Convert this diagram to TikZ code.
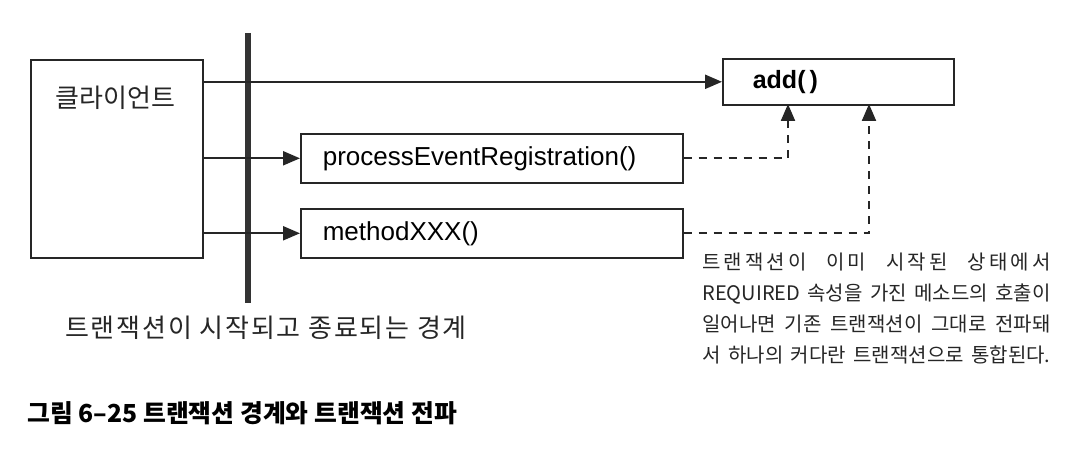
\documentclass[tikz,border=0pt]{standalone}
\usepackage{fontspec}
\setmainfont{Liberation Sans}
\newfontfamily\kr{Noto Sans CJK KR}
\newfontfamily\krwide[LetterSpace=7]{Noto Sans CJK KR}
\newfontfamily\krspread[LetterSpace=15]{Noto Sans CJK KR}
\usetikzlibrary{arrows.meta}
\newcommand\noteline[1]{\makebox[174pt][s]{\spaceskip=0.25em plus 1fil\relax #1}}

\begin{document}
\begin{tikzpicture}[x=0.5pt,y=-0.5pt,
		box/.style={draw=black!85,line width=0.8pt,rectangle,inner sep=0pt,anchor=north west},
		mbox/.style={box,minimum width=191pt,minimum height=24.5pt,inner xsep=11pt,text width=169pt,align=left,font=\fontsize{13}{15}\selectfont},
		call/.style={-{Triangle[length=8.5pt,width=7pt]},line width=1.1pt,black!85},
		ret/.style={-{Triangle[length=8.5pt,width=7pt]},line width=1.1pt,black!85,dash pattern=on 4pt off 3.5pt}]
	\useasboundingbox (0,0) rectangle (1076,453);

	\node[box,minimum width=86pt,minimum height=99pt] (client) at (30,59) {};
	\node[anchor=west,inner sep=0pt,font=\kr\fontsize{13}{15}\selectfont,text=black!85] (clientlbl) at (55,98) {클라이언트};

	\node[box,minimum width=115.5pt,minimum height=23pt,inner xsep=15pt,text width=85.5pt,align=left,font=\bfseries\fontsize{12.5}{15}\selectfont] (addm) at (722,58) {add(\,)};
	\node[mbox] (procm) at (300,133) {processEventRegistration()};
	\node[mbox] (methm) at (300,208) {methodXXX()};

	% transaction boundary
	\coordinate (bdtop) at (248,33);
	\coordinate (bdbot) at (248,303);
	\draw[line width=2.6pt,black!80] (bdtop) -- (bdbot);
	\node[font=\krwide\fontsize{13}{15}\selectfont,text=black!85] (bdlbl) at (266,328) {트랜잭션이 시작되고 종료되는 경계};

	\draw[call] (client.east |- addm.west) -- (addm.west);
	\draw[call] (client.east |- procm.west) -- (procm.west);
	\draw[call] (client.east |- methm.west) -- (methm.west);

	\coordinate (addin1) at (788,104);
	\coordinate (addin2) at (869,104);
	\draw[ret] (procm.east) -| (addin1);
	\draw[ret] (methm.east) -| (addin2);

	\node[anchor=north west,inner sep=0pt,text width=174pt,align=left,font=\kr\fontsize{10}{15.5}\selectfont,text=black!85] (note) at (702,253) {%
		\noteline{\krspread 트랜잭션이 이미 시작된 상태에서}\\
		\noteline{REQUIRED 속성을 가진 메소드의 호출이}\\
		\noteline{일어나면 기존 트랜잭션이 그대로 전파돼}\\
		\noteline{서 하나의 커다란 트랜잭션으로 통합된다.}};

	\node[anchor=west,inner sep=0pt,font=\kr\bfseries\fontsize{12.4}{15}\selectfont] (caption) at (27,413) {그림 6–25 트랜잭션 경계와 트랜잭션 전파};
\end{tikzpicture}
\end{document}
